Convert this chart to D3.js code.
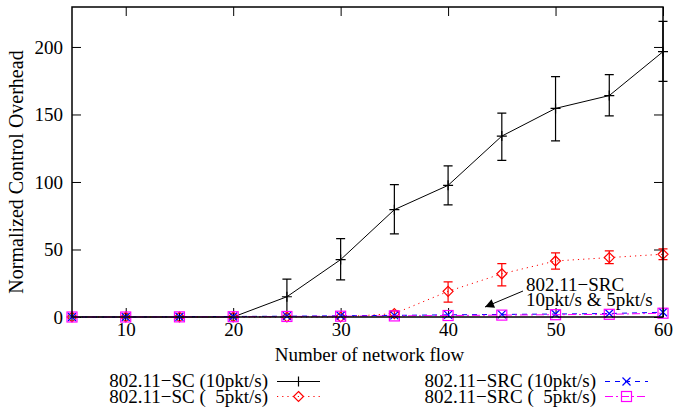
<!DOCTYPE html>
<html>
<head>
<meta charset="utf-8">
<script src="https://cdn.jsdelivr.net/npm/d3@7"></script>
<style>
  body { margin: 0; background: #fff; }
  text { font-family: "Liberation Serif", "Times New Roman", serif; fill: #000; }
</style>
</head>
<body>
<div id="chart"></div>
<script>
// values
const flows = [5, 10, 15, 20, 25, 30, 35, 40, 45, 50, 55, 60];
const sc10 = [0, 0, 0, 0, 15, 42.5, 79.5, 97.5, 134, 154.5, 164, 196.5];
const sc10Lo = [0, 0, 0, 0, 0.5, 27.5, 61.5, 83, 116, 130.5, 149, 174.5];
const sc10Hi = [0, 0, 0, 0, 28, 58, 98, 112, 151, 178, 179.5, 219];
const sc5 = [0, 0, 0, 0, 0, 0, 2.5, 19, 32, 41.5, 44, 46.5];
const sc5Lo = [0, 0, 0, 0, 0, 0, 0.5, 11, 23, 35.5, 39.5, 42.5];
const sc5Hi = [0, 0, 0, 0, 0, 0, 4.5, 26, 39.5, 47.5, 49, 50.5];
const src10 = [0, 0, 0.2, 0.4, 0.6, 0.9, 1.2, 1.6, 1.9, 2.2, 2.6, 3.5];
const src5 = [0, 0, 0.1, 0.2, 0.4, 0.6, 0.8, 1.1, 1.4, 1.7, 2.0, 2.8];
const xTicks = [10, 20, 30, 40, 50, 60];
const yTicks = [0, 50, 100, 150, 200];
const seriesNames = ["802.11\u2212SC (10pkt/s)", "802.11\u2212SC (  5pkt/s)",
                     "802.11\u2212SRC (10pkt/s)", "802.11\u2212SRC (  5pkt/s)"];

const W = 676, H = 410;
const pLeft = 72, pRight = 663, pTop = 7, pBottom = 317;

const svg = d3.select("#chart").append("svg")
  .attr("width", W).attr("height", H);

const x = d3.scaleLinear().domain([5, 60]).range([pLeft, pRight]);
const y = d3.scaleLinear().domain([0, 229.6]).range([pBottom, pTop]);

// axes (inward ticks, mirrored on top/right)
const xAxis = svg.append("g").attr("transform", "translate(0," + pBottom + ")")
  .call(d3.axisBottom(x).tickValues(xTicks).tickSizeInner(-9).tickSizeOuter(0).tickPadding(5.5));
const yAxis = svg.append("g").attr("transform", "translate(" + pLeft + ",0)")
  .call(d3.axisLeft(y).tickValues(yTicks).tickSizeInner(-9).tickSizeOuter(0).tickPadding(9));
const xTop = svg.append("g").attr("transform", "translate(0," + pTop + ")")
  .call(d3.axisTop(x).tickValues(xTicks).tickSizeInner(-9).tickSizeOuter(0).tickFormat(""));
const yRight = svg.append("g").attr("transform", "translate(" + pRight + ",0)")
  .call(d3.axisRight(y).tickValues(yTicks).tickSizeInner(-9).tickSizeOuter(0).tickFormat(""));

[xAxis, yAxis, xTop, yRight].forEach(g => {
  g.select(".domain").remove();
  g.selectAll("line").attr("stroke", "#000").attr("stroke-width", 1);
  g.selectAll("text").attr("font-size", 19).attr("font-family", "Liberation Serif");
});

// axis titles
svg.append("text").attr("x", (pLeft + pRight) / 2 + 2).attr("y", 361)
  .attr("text-anchor", "middle").attr("font-size", 19)
  .text("Number of network flow");
svg.append("text").attr("transform", "translate(23,172) rotate(-90)")
  .attr("text-anchor", "middle").attr("font-size", 20)
  .text("Normalized Control Overhead");

// markers
function drawMarker(g, type, cx, cy, color) {
  if (type === "plus") {
    g.append("path").attr("d", `M${cx - 5},${cy}H${cx + 5}M${cx},${cy - 5}V${cy + 5}`)
      .attr("stroke", color).attr("stroke-width", 1.2).attr("fill", "none");
  } else if (type === "diamond") {
    g.append("path").attr("d", `M${cx},${cy - 5}L${cx + 5},${cy}L${cx},${cy + 5}L${cx - 5},${cy}Z`)
      .attr("stroke", color).attr("stroke-width", 1.2).attr("fill", "none");
  } else if (type === "cross") {
    g.append("path").attr("d", `M${cx - 4},${cy - 4}L${cx + 4},${cy + 4}M${cx - 4},${cy + 4}L${cx + 4},${cy - 4}`)
      .attr("stroke", color).attr("stroke-width", 1.2).attr("fill", "none");
  } else if (type === "square") {
    g.append("rect").attr("x", cx - 5).attr("y", cy - 5).attr("width", 10).attr("height", 10)
      .attr("stroke", color).attr("stroke-width", 1.2).attr("fill", "none");
  }
}

const series = [
  { vals: sc10, lo: sc10Lo, hi: sc10Hi, color: "#000000", dash: null, marker: "plus" },
  { vals: sc5, lo: sc5Lo, hi: sc5Hi, color: "#ff0000", dash: "1.2,4", marker: "diamond" },
  { vals: src10, lo: null, hi: null, color: "#0000ff", dash: "5,5", marker: "cross" },
  { vals: src5, lo: null, hi: null, color: "#ff00ff", dash: "8,3,2,3", marker: "square" }
];

const line = d3.line().x(d => x(d[0])).y(d => y(d[1]));

series.forEach(s => {
  const g = svg.append("g");
  const pts = flows.map((f, i) => [f, s.vals[i]]);
  g.append("path").attr("d", line(pts))
    .attr("fill", "none").attr("stroke", s.color).attr("stroke-width", 1)
    .attr("stroke-dasharray", s.dash);
  if (s.lo) {
    flows.forEach((f, i) => {
      if (s.hi[i] <= s.lo[i]) return;
      const cx = x(f), y1 = y(s.lo[i]), y2 = y(s.hi[i]);
      g.append("path")
        .attr("d", `M${cx},${y1}V${y2}M${cx - 4.5},${y1}H${cx + 4.5}M${cx - 4.5},${y2}H${cx + 4.5}`)
        .attr("stroke", s.color).attr("stroke-width", 1.2).attr("fill", "none");
    });
  }
  pts.forEach(p => drawMarker(g, s.marker, x(p[0]), y(p[1]), s.color));
});

// plot border
svg.append("rect").attr("x", pLeft).attr("y", pTop)
  .attr("width", pRight - pLeft).attr("height", pBottom - pTop)
  .attr("fill", "none").attr("stroke", "#000").attr("stroke-width", 1.5);

// annotation with arrow
svg.append("defs").append("marker").attr("id", "head")
  .attr("viewBox", "0 0 10 10").attr("refX", 10).attr("refY", 5)
  .attr("markerWidth", 13).attr("markerHeight", 9).attr("markerUnits", "userSpaceOnUse")
  .attr("orient", "auto")
  .append("path").attr("d", "M0,0L10,5L0,10Z").attr("fill", "#000");
svg.append("line").attr("x1", 523).attr("y1", 291).attr("x2", 485).attr("y2", 307)
  .attr("stroke", "#000").attr("stroke-width", 1).attr("marker-end", "url(#head)");
svg.append("text").attr("x", 526).attr("y", 291).attr("font-size", 19).text("802.11\u2212SRC");
svg.append("text").attr("x", 526).attr("y", 306).attr("font-size", 19).text("10pkt/s & 5pkt/s");

// legend
const legendPos = [
  { tx: 268, ty: 387, lx1: 277, lx2: 320, ly: 381.5 },
  { tx: 268, ty: 403, lx1: 277, lx2: 320, ly: 396.5 },
  { tx: 596, ty: 387, lx1: 605, lx2: 648, ly: 381.5 },
  { tx: 596, ty: 403, lx1: 605, lx2: 648, ly: 396.5 }
];
series.forEach((s, i) => {
  const p = legendPos[i];
  const g = svg.append("g");
  g.append("text").attr("x", p.tx).attr("y", p.ty).attr("text-anchor", "end")
    .attr("font-size", 19).attr("xml:space", "preserve").style("white-space", "pre")
    .text(seriesNames[i]);
  g.append("line").attr("x1", p.lx1).attr("x2", p.lx2).attr("y1", p.ly).attr("y2", p.ly)
    .attr("stroke", s.color).attr("stroke-width", 1).attr("stroke-dasharray", s.dash);
  drawMarker(g, s.marker, (p.lx1 + p.lx2) / 2, p.ly, s.color);
});
</script>
</body>
</html>
